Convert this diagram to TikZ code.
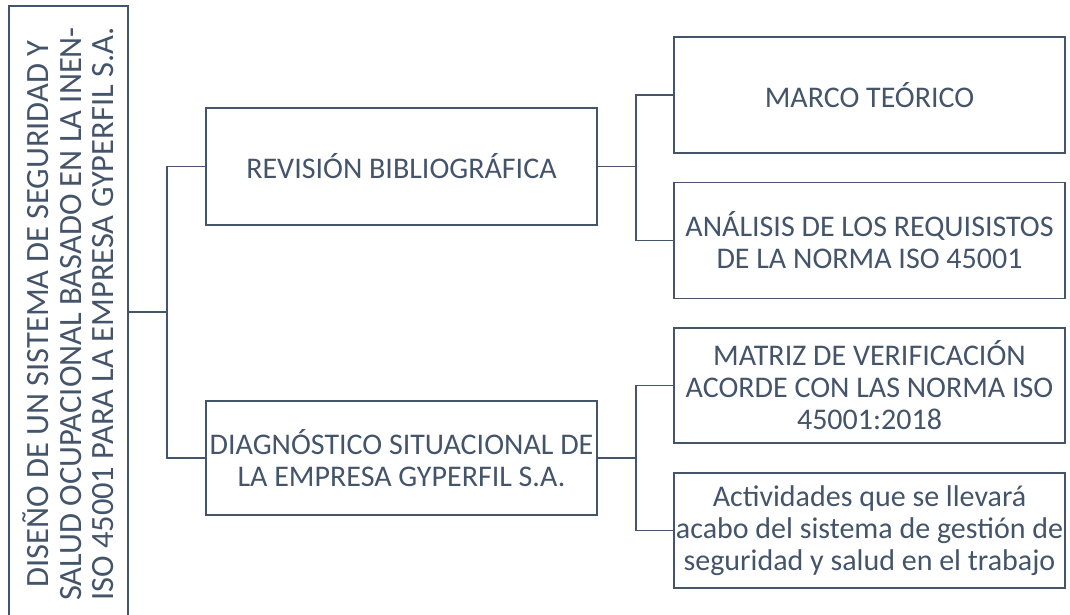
\documentclass[tikz,border=0pt]{standalone}
\usepackage{fontspec}
\setmainfont{Carlito}
\definecolor{slate}{HTML}{44546A}

\begin{document}
\begin{tikzpicture}[x=1pt, y=-1pt,
    box/.style ={draw=slate, line width=1.8pt, text=slate, align=center,
                 minimum width=391pt, minimum height=116pt, inner sep=0pt,
                 font=\fontsize{30}{32}\selectfont},
    tree/.style ={draw=slate, line width=1.8pt}]
   \useasboundingbox (0,0) rectangle (1070,615);

   \node[box, rotate=90, minimum width=616pt, minimum height=119pt,
         font=\fontsize{32.5}{32.5}\selectfont] (title) at (68.5,314)
        {DISEÑO DE UN SISTEMA DE SEGURIDAD Y\\SALUD OCUPACIONAL BASADO EN LA INEN-\\ISO 45001 PARA LA EMPRESA GYPERFIL S.A.};

   \node[box, minimum height=117pt] (rev)  at (401.5,166.5) {REVISIÓN BIBLIOGRÁFICA};
   \node[box, minimum height=114pt] (diag) at (401.5,458)   {DIAGNÓSTICO SITUACIONAL DE\\LA EMPRESA GYPERFIL S.A.};

   \node[box] (marco)  at (869.5,95)    {MARCO TEÓRICO};
   \node[box] (anal)   at (869.5,240.5) {ANÁLISIS DE LOS REQUISISTOS\\DE LA NORMA ISO 45001};
   \node[box, minimum height=115pt] (matriz) at (869.5,385.5) {MATRIZ DE VERIFICACIÓN\\ACORDE CON LAS NORMA ISO\\45001:2018};
   \node[box, minimum height=115pt] (activ)  at (869.5,530.5) {Actividades que se llevará\\acabo del sistema de gestión de\\seguridad y salud en el trabajo};

   \coordinate (j1) at (167,312);
   \coordinate (j2) at (636,166.5);
   \coordinate (j3) at (636,458);

   \draw[tree] (title.south |- j1) -- (j1);
   \draw[tree] (rev.west) -| (j1) |- (diag.west);
   \draw[tree] (rev.east) -- (j2);
   \draw[tree] (marco.west) -| (j2) |- (anal.west);
   \draw[tree] (diag.east) -- (j3);
   \draw[tree] (matriz.west) -| (j3) |- (activ.west);
 \end{tikzpicture}
\end{document}
